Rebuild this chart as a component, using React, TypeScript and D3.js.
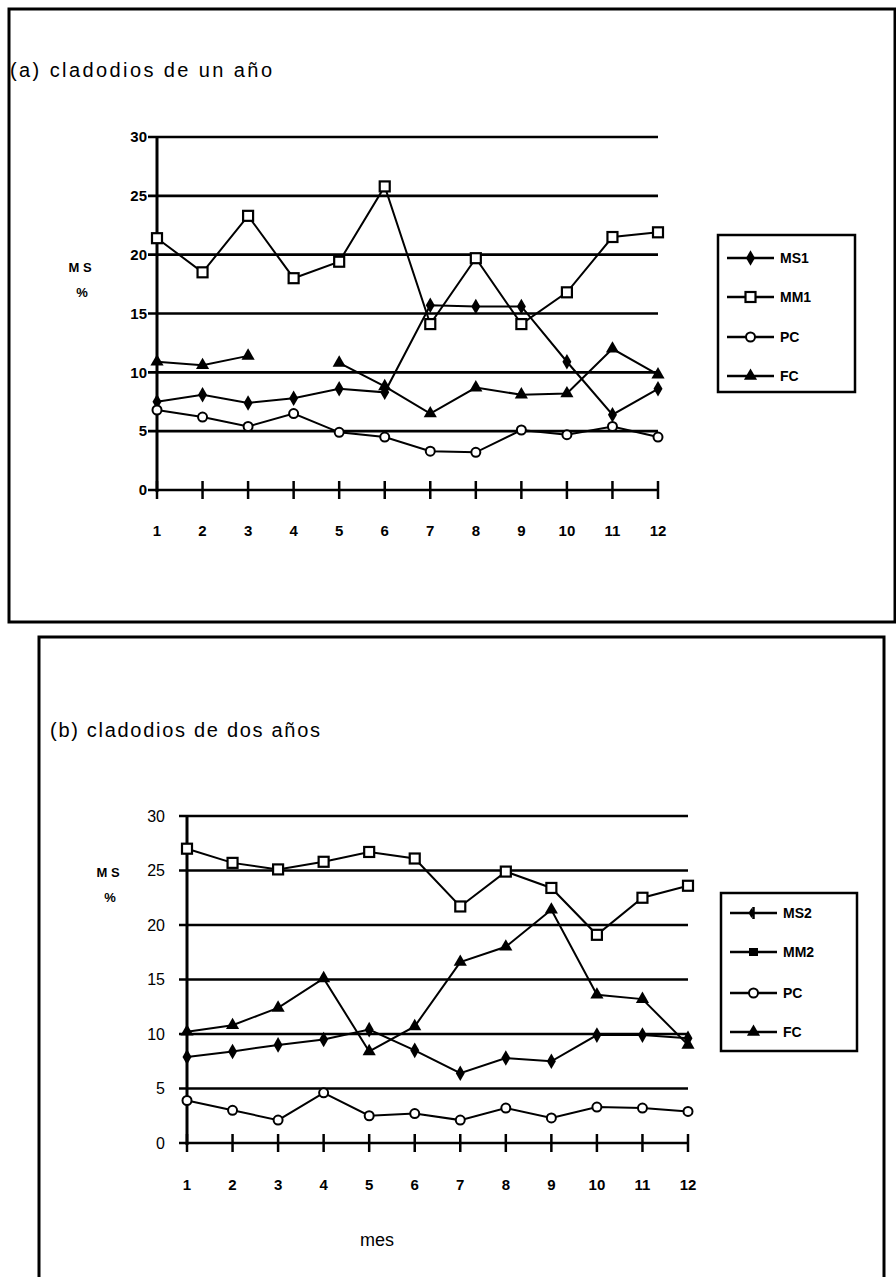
import React from 'react';
import * as d3 from 'd3';

// Months on the x axis and their printed labels
const months = [1, 2, 3, 4, 5, 6, 7, 8, 9, 10, 11, 12];
const monthLabels = ['1', '2', '3', '4', '5', '6', '7', '8', '9', '10', '11', '12'];
const yTickValues = [0, 5, 10, 15, 20, 25, 30];

// (a) one-year cladodes, dry matter %
const ms1 = [7.5, 8.1, 7.4, 7.8, 8.6, 8.3, 15.7, 15.6, 15.6, 10.9, 6.4, 8.6];
const mm1 = [21.4, 18.5, 23.3, 18.0, 19.4, 25.8, 14.1, 19.7, 14.1, 16.8, 21.5, 21.9];
const pcA = [6.8, 6.2, 5.4, 6.5, 4.9, 4.5, 3.3, 3.2, 5.1, 4.7, 5.4, 4.5];
const fcA: (number | null)[] = [10.9, 10.6, 11.4, null, 10.8, 8.8, 6.5, 8.7, 8.1, 8.2, 12.0, 9.8];

// (b) two-year cladodes, dry matter %
const ms2 = [7.9, 8.4, 9.0, 9.5, 10.4, 8.5, 6.4, 7.8, 7.5, 9.9, 9.9, 9.6];
const mm2 = [27.0, 25.7, 25.1, 25.8, 26.7, 26.1, 21.7, 24.9, 23.4, 19.1, 22.5, 23.6];
const pcB = [3.9, 3.0, 2.1, 4.6, 2.5, 2.7, 2.1, 3.2, 2.3, 3.3, 3.2, 2.9];
const fcB = [10.2, 10.8, 12.4, 15.1, 8.4, 10.7, 16.6, 18.0, 21.4, 13.6, 13.2, 9.0];

const seriesNamesA = ['MS1', 'MM1', 'PC', 'FC'];
const seriesNamesB = ['MS2', 'MM2', 'PC', 'FC'];

type MarkerKind = 'diamond' | 'openSquare' | 'filledSquare' | 'openCircle' | 'triangle' | 'tick';

const FONT = '"Liberation Sans", Arial, sans-serif';

function Marker({ kind, x, y }: { kind: MarkerKind; x: number; y: number }) {
  switch (kind) {
    case 'diamond':
      return <path d={d3.symbol(d3.symbolDiamond, 70)()!} transform={`translate(${x},${y})`} fill="#000" />;
    case 'triangle':
      return <path d={d3.symbol(d3.symbolTriangle, 75)()!} transform={`translate(${x},${y})`} fill="#000" />;
    case 'openSquare':
      return <rect x={x - 5} y={y - 5} width={10} height={10} fill="#fff" stroke="#000" strokeWidth={2.2} />;
    case 'filledSquare':
      return <rect x={x - 4.5} y={y - 4} width={9} height={8} fill="#000" />;
    case 'openCircle':
      return <circle cx={x} cy={y} r={4.5} fill="#fff" stroke="#000" strokeWidth={2} />;
    case 'tick':
      return (
        <g>
          <line x1={x} x2={x} y1={y - 6} y2={y + 6} stroke="#000" strokeWidth={2.5} />
          <path d={d3.symbol(d3.symbolDiamond, 30)()!} transform={`translate(${x - 2},${y})`} fill="#000" />
        </g>
      );
  }
}

interface Series {
  name: string;
  values: (number | null)[];
  plotMarker: MarkerKind;
  legendMarker: MarkerKind;
}

interface PanelProps {
  title: string;
  titleX: number;
  titleY: number;
  titleLength: number;
  frame: { x: number; y: number; w: number; h: number };
  xRange: [number, number];
  yRange: [number, number];
  gridLeft: number;
  tickLabelRight: number;
  xLabelY: number;
  msLabel: { x: number; y: number };
  legend: { x: number; y: number; w: number; h: number; rowY: number[]; textX: number };
  series: Series[];
  yTickWeight: string;
  yTickSize: number;
}

function Panel(p: PanelProps) {
  const x = d3.scaleLinear().domain([1, 12]).range(p.xRange);
  const y = d3.scaleLinear().domain([0, 30]).range(p.yRange);
  const line = d3
    .line<number | null>()
    .defined((v) => v != null)
    .x((_, i) => x(months[i]))
    .y((v) => y(v as number));

  return (
    <g>
      <rect x={p.frame.x} y={p.frame.y} width={p.frame.w} height={p.frame.h} fill="#fff" stroke="#000" strokeWidth={3} />
      <text
        x={p.titleX}
        y={p.titleY}
        fontFamily={FONT}
        fontSize={20}
        textLength={p.titleLength}
        lengthAdjust="spacing"
      >
        {p.title}
      </text>

      {/* horizontal gridlines at every y tick */}
      {yTickValues.map((v) => (
        <line key={v} x1={p.gridLeft} x2={p.xRange[1]} y1={y(v)} y2={y(v)} stroke="#000" strokeWidth={2.6} />
      ))}
      {/* y axis */}
      <line x1={p.xRange[0]} x2={p.xRange[0]} y1={y(30)} y2={y(0) + 2} stroke="#000" strokeWidth={3} />
      {/* x ticks */}
      {months.map((m) => (
        <line key={m} x1={x(m)} x2={x(m)} y1={y(0) - 9} y2={y(0) + 9} stroke="#000" strokeWidth={2.5} />
      ))}
      {/* y tick labels */}
      {yTickValues.map((v) => (
        <text
          key={v}
          x={p.tickLabelRight}
          y={y(v)}
          dy="0.35em"
          textAnchor="end"
          fontFamily={FONT}
          fontSize={p.yTickSize}
          fontWeight={p.yTickWeight}
        >
          {v}
        </text>
      ))}
      {/* x tick labels */}
      {months.map((m, i) => (
        <text
          key={m}
          x={x(m)}
          y={p.xLabelY}
          dy="0.35em"
          textAnchor="middle"
          fontFamily={FONT}
          fontSize={15}
          fontWeight="bold"
        >
          {monthLabels[i]}
        </text>
      ))}
      {/* axis title */}
      <text x={p.msLabel.x} y={p.msLabel.y} textAnchor="middle" fontFamily={FONT} fontSize={13} fontWeight="bold">
        M S
      </text>
      <text x={p.msLabel.x + 2} y={p.msLabel.y + 25} textAnchor="middle" fontFamily={FONT} fontSize={13} fontWeight="bold">
        %
      </text>

      {/* series lines */}
      {p.series.map((s) => (
        <path key={s.name} d={line(s.values) || ''} fill="none" stroke="#000" strokeWidth={2} />
      ))}
      {/* series markers */}
      {p.series.map((s) =>
        s.values.map((v, i) =>
          v == null ? null : <Marker key={`${s.name}-${i}`} kind={s.plotMarker} x={x(months[i])} y={y(v)} />
        )
      )}

      {/* legend */}
      <rect
        x={p.legend.x}
        y={p.legend.y}
        width={p.legend.w}
        height={p.legend.h}
        fill="#fff"
        stroke="#000"
        strokeWidth={2.5}
      />
      {p.series.map((s, i) => {
        const ry = p.legend.rowY[i];
        const lx0 = p.legend.x + 9;
        const lx1 = p.legend.x + 56;
        return (
          <g key={s.name}>
            <line x1={lx0} x2={lx1} y1={ry} y2={ry} stroke="#000" strokeWidth={2.5} />
            <Marker kind={s.legendMarker} x={(lx0 + lx1) / 2} y={ry} />
            <text x={p.legend.textX} y={ry} dy="0.35em" fontFamily={FONT} fontSize={14} fontWeight="bold">
              {s.name}
            </text>
          </g>
        );
      })}
    </g>
  );
}

export default function App() {
  const seriesA: Series[] = [
    { name: seriesNamesA[0], values: ms1, plotMarker: 'diamond', legendMarker: 'diamond' },
    { name: seriesNamesA[1], values: mm1, plotMarker: 'openSquare', legendMarker: 'openSquare' },
    { name: seriesNamesA[2], values: pcA, plotMarker: 'openCircle', legendMarker: 'openCircle' },
    { name: seriesNamesA[3], values: fcA, plotMarker: 'triangle', legendMarker: 'triangle' },
  ];
  const seriesB: Series[] = [
    { name: seriesNamesB[0], values: ms2, plotMarker: 'diamond', legendMarker: 'tick' },
    { name: seriesNamesB[1], values: mm2, plotMarker: 'openSquare', legendMarker: 'filledSquare' },
    { name: seriesNamesB[2], values: pcB, plotMarker: 'openCircle', legendMarker: 'openCircle' },
    { name: seriesNamesB[3], values: fcB, plotMarker: 'triangle', legendMarker: 'triangle' },
  ];

  return (
    <svg
      width={896}
      height={1277}
      style={{ position: 'absolute', left: 0, top: 0, background: '#fff' }}
    >
      <rect width={896} height={1277} fill="#fff" />
      <Panel
        title="(a) cladodios de un año"
        titleX={10}
        titleY={77}
        titleLength={262}
        frame={{ x: 9, y: 9, w: 886, h: 613 }}
        xRange={[157, 658]}
        yRange={[490, 137]}
        gridLeft={148}
        tickLabelRight={147}
        xLabelY={531}
        msLabel={{ x: 80, y: 272 }}
        legend={{ x: 718, y: 235, w: 137, h: 157, rowY: [258, 297, 337, 376], textX: 780 }}
        series={seriesA}
        yTickWeight="bold"
        yTickSize={15}
      />
      <Panel
        title="(b) cladodios de dos años"
        titleX={50}
        titleY={737}
        titleLength={270}
        frame={{ x: 39, y: 637, w: 845, h: 660 }}
        xRange={[187, 688]}
        yRange={[1143, 816]}
        gridLeft={179}
        tickLabelRight={165}
        xLabelY={1185}
        msLabel={{ x: 108, y: 877 }}
        legend={{ x: 721, y: 893, w: 136, h: 158, rowY: [913, 952, 993, 1032], textX: 783 }}
        series={seriesB}
        yTickWeight="normal"
        yTickSize={16}
      />
      <text x={377} y={1240} dy="0.35em" textAnchor="middle" fontFamily={FONT} fontSize={18}>
        mes
      </text>
    </svg>
  );
}
